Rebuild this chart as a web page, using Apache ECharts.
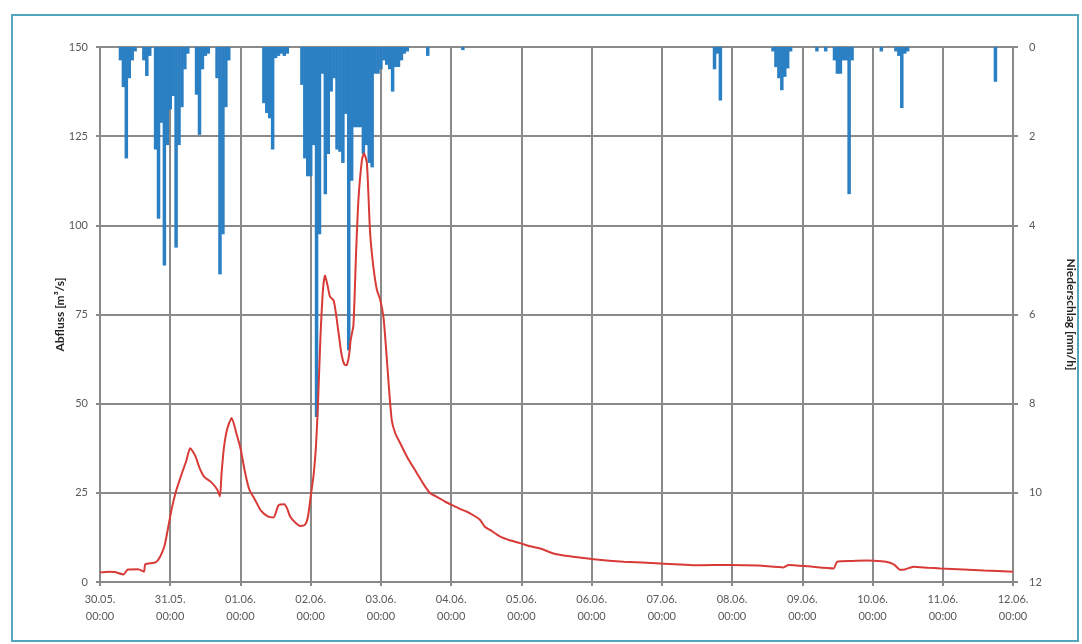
<!DOCTYPE html>
<html>
<head>
<meta charset="utf-8">
<script src="https://cdn.jsdelivr.net/npm/echarts@6/dist/echarts.min.js"></script>
<style>
html,body{margin:0;padding:0;background:#ffffff;}
#chart{width:1082px;height:644px;}
</style>
</head>
<body>
<div id="chart"></div>
<script>
// X axis: hours since 30.05. 00:00 ; one tick per day
const dayLabels = ['30.05.','31.05.','01.06.','02.06.','03.06.','04.06.','05.06.','06.06.','07.06.','08.06.','09.06.','10.06.','11.06.','12.06.'];
const timeLabel = '00:00';

// Abfluss [m³/s] (red line): hour offset and value
const flowHours = [0,3,5,8,9.5,13,15,15.5,19,20.5,22,23,24.5,26,28,29.5,30.8,32.5,34,35.6,38,40,41,41.5,42.4,43.5,45,46.5,48,49.5,51,53,55,57.5,59.3,61,63,64,65,67,68.5,70,71,72,73,73.8,74.5,75.3,76.2,76.9,77.8,78.6,79.8,80.5,81.5,82.5,83.5,84.3,85,85.7,86.6,87.5,88.3,89.5,90.2,91.2,92.3,93.4,94.6,95.8,96.9,97.8,98.6,99.7,100.9,102.6,105,108.3,110.5,112.8,115.1,118,120.2,123,125.4,128,129.9,131.5,133.3,136.8,140,143.6,147,150.4,155,158,161.8,168.7,178.9,191.5,205,215.4,225,233.6,235.3,242,250.7,251.9,257,262,267,270,271.5,273.5,275,278,283,287.2,295,302,312];
const flowValues = [2.7,2.9,2.8,2.1,3.5,3.6,2.9,5.0,5.5,7,10,14,20.5,25.5,30.5,34,37.5,35.5,32,29.5,28,26,24,30,38,43,46,42,37.5,31,26,23,20,18.3,18.1,21.5,21.8,20.5,18.3,16.5,15.7,16,18,24,30,38,50,68,82,86,83,80,79,76,70,64,61,60.8,63,68,72,92,107,118.3,120.2,117.5,98,88.5,82,79,74,65,56,45.4,41.7,38.9,35,30.5,27.5,24.9,23.9,22.5,21.6,20.5,19.7,18.5,17.4,15.5,14.6,12.7,11.7,10.9,10,9.4,8.0,7.5,7.1,6.4,5.7,5.2,4.7,4.8,4.6,4.1,4.8,4.4,3.8,5.7,5.9,6.0,5.8,5.4,4.8,3.4,3.5,4.3,4.0,3.8,3.5,3.2,2.9];

// Niederschlag [mm/h] (blue bars): hour offset and value
const rainHours = [7,8,9,10,11,12,15,16,17,19,20,21,22,23,24,25,26,27,28,29,30,33,34,35,36,37,40,41,42,43,44,56,57,58,59,60,61,62,63,64,69,70,71,72,73,74,75,76,77,78,79,80,81,82,83,84,85,86,87,88,89,90,91,92,93,94,95,96,97,98,99,100,101,102,103,104,105,112,124,210,211,212,230,231,232,233,234,235,236,245,248,251,252,253,254,255,256,257,267,272,273,274,275,276,306];
const rainValues = [0.3,0.9,2.5,0.7,0.3,0.1,0.3,0.65,0.2,2.3,3.85,1.7,4.9,2.2,1.4,1.1,4.5,2.2,1.35,0.5,0.15,1.07,1.97,0.5,0.2,0.15,0.7,5.1,4.2,1.35,0.3,1.26,1.48,1.6,2.3,0.25,0.2,0.15,0.2,0.15,0.85,2.5,2.9,2.9,2.2,8.3,4.2,0.6,3.3,2.4,1.0,0.7,2.3,2.35,2.6,1.5,6.8,3.0,1.8,1.8,1.8,2.4,2.2,2.6,2.7,0.6,0.6,0.5,0.3,0.4,0.5,1.0,0.45,0.45,0.3,0.15,0.1,0.2,0.07,0.5,0.15,1.2,0.1,0.45,0.7,0.97,0.67,0.48,0.1,0.1,0.1,0.3,0.6,0.6,0.3,0.3,3.3,0.3,0.1,0.1,0.2,1.37,0.15,0.1,0.78];

const flowData = flowHours.map((h, i) => [h, flowValues[i]]);
const rainData = rainHours.map((h, i) => [h, rainValues[i]]);

const FONT = 'Lato';
const gridColor = '#8a8a8a';
const txtColor = '#595959';

const chart = echarts.init(document.getElementById('chart'), null, {renderer: 'canvas'});
chart.setOption({
  animation: false,
  backgroundColor: '#ffffff',
  graphic: [{
    type: 'rect',
    shape: {x: 12, y: 15, width: 1066, height: 626},
    style: {fill: 'none', stroke: '#52a8ba', lineWidth: 2},
    silent: true,
    z: -1
  }],
  grid: {left: 100, right: 69, top: 47, bottom: 62, containLabel: false, outerBoundsMode: 'none'},
  xAxis: {
    type: 'value',
    min: 0,
    max: 312,
    interval: 24,
    axisLine: {show: true, lineStyle: {color: gridColor, width: 2}},
    axisTick: {show: true, length: 4, lineStyle: {color: gridColor, width: 2}},
    splitLine: {show: true, lineStyle: {color: gridColor, width: 2}},
    axisLabel: {
      color: txtColor, fontFamily: FONT, fontSize: 11, lineHeight: 17, margin: 9,
      formatter: v => dayLabels[Math.round(v / 24)] + '\n' + timeLabel
    }
  },
  yAxis: [{
    type: 'value',
    min: 0, max: 150, interval: 25,
    name: 'Abfluss [m³/s]',
    nameLocation: 'middle',
    nameGap: 34,
    nameRotate: 90,
    nameMoveOverlap: false,
    nameTextStyle: {color: '#262626', fontFamily: FONT, fontSize: 12, fontWeight: 'bold'},
    axisLine: {show: true, lineStyle: {color: gridColor, width: 2}},
    axisTick: {show: true, length: 4, lineStyle: {color: gridColor, width: 2}},
    splitLine: {show: true, lineStyle: {color: gridColor, width: 2}},
    axisLabel: {color: txtColor, fontFamily: FONT, fontSize: 11, margin: 12}
  }, {
    type: 'value',
    min: 0, max: 12, interval: 2,
    inverse: true,
    position: 'right',
    name: 'Niederschlag [mm/h]',
    nameLocation: 'middle',
    nameGap: 52,
    nameRotate: -90,
    nameMoveOverlap: false,
    nameTextStyle: {color: '#262626', fontFamily: FONT, fontSize: 12, fontWeight: 'bold'},
    axisLine: {show: true, lineStyle: {color: gridColor, width: 2}},
    axisTick: {show: true, length: 5, lineStyle: {color: gridColor, width: 2}},
    splitLine: {show: false},
    axisLabel: {color: txtColor, fontFamily: FONT, fontSize: 11, margin: 16}
  }],
  series: [{
    name: 'Niederschlag',
    type: 'bar',
    xAxisIndex: 0,
    yAxisIndex: 1,
    data: rainData,
    barWidth: 3.5,
    itemStyle: {color: '#2b7fc3'},
    z: 2
  }, {
    name: 'Abfluss',
    type: 'line',
    xAxisIndex: 0,
    yAxisIndex: 0,
    data: flowData,
    showSymbol: false,
    smooth: 0.2,
    lineStyle: {color: '#d83b37', width: 2},
    z: 3
  }]
});
</script>
</body>
</html>
